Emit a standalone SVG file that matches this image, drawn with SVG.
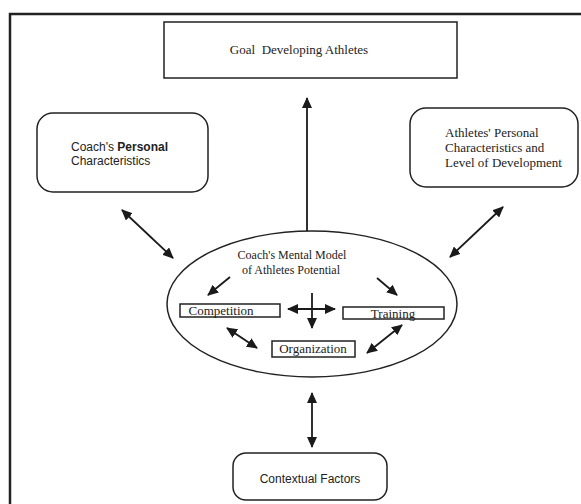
<svg xmlns="http://www.w3.org/2000/svg" width="581" height="504" viewBox="0 0 581 504">
<style>
.box{fill:#fff;stroke:#222;stroke-width:1.5}
.serif{font-family:"Liberation Serif","Times New Roman",serif;fill:#222}
.sans{font-family:"Liberation Sans",Arial,sans-serif;fill:#222}
.con{stroke:#1a1a1a;stroke-width:1.8;fill:none}
</style>
<defs>
<marker id="ah" markerUnits="userSpaceOnUse" markerWidth="12" markerHeight="10" refX="10" refY="5" orient="auto-start-reverse" viewBox="0 0 12 10">
<path d="M0,0 L11,5 L0,10 z" fill="#1a1a1a"/>
</marker>
</defs>
<rect width="581" height="504" fill="#fff"/>
<g id="frame">
<path d="M10,504 L10,14 L581,14" fill="none" stroke="#222" stroke-width="2.5"/>
</g>
<g id="goal">
<rect class="box" x="164" y="22" width="293" height="56"/>
<text class="serif" x="299" y="54" font-size="13" text-anchor="middle" fill="#444" xml:space="preserve">Goal  Developing Athletes</text>
</g>
<g id="coach">
<rect class="box" x="37" y="113" width="171" height="79" rx="16"/>
<text class="sans" x="71" y="151" font-size="12">Coach's <tspan font-weight="bold">Personal</tspan></text>
<text class="sans" x="71" y="165" font-size="12">Characteristics</text>
</g>
<g id="athletes">
<rect class="box" x="410" y="108" width="168" height="79" rx="16"/>
<text class="serif" x="445" y="137" font-size="13">Athletes' Personal</text>
<text class="serif" x="445" y="152" font-size="13">Characteristics and</text>
<text class="serif" x="445" y="167" font-size="13">Level of Development</text>
</g>
<g id="mental-model">
<ellipse class="box" cx="312" cy="304" rx="145" ry="73"/>
<text class="serif" x="292" y="259" font-size="12" text-anchor="middle">Coach's Mental Model</text>
<text class="serif" x="291" y="274" font-size="12" text-anchor="middle">of Athletes Potential</text>
</g>
<g id="competition">
<rect class="box" x="180" y="304" width="100" height="13"/>
<text class="serif" x="221" y="315" font-size="13" text-anchor="middle">Competition</text>
</g>
<g id="training">
<rect class="box" x="343" y="307" width="101" height="12"/>
<text class="serif" x="393" y="318" font-size="13" text-anchor="middle">Training</text>
</g>
<g id="organization">
<rect class="box" x="272" y="341" width="83" height="16"/>
<text class="serif" x="313" y="353" font-size="13" text-anchor="middle">Organization</text>
</g>
<g id="contextual">
<rect class="box" x="233" y="453" width="154" height="47" rx="13"/>
<text class="sans" x="310" y="483" font-size="12" text-anchor="middle">Contextual Factors</text>
</g>
<g id="connectors">
<line class="con" x1="307" y1="231" x2="307" y2="98" marker-end="url(#ah)"/>
<line class="con" x1="122" y1="210" x2="173" y2="258" marker-start="url(#ah)" marker-end="url(#ah)"/>
<line class="con" x1="450" y1="257" x2="503" y2="207" marker-start="url(#ah)" marker-end="url(#ah)"/>
<line class="con" x1="312" y1="393" x2="312" y2="447" marker-start="url(#ah)" marker-end="url(#ah)"/>
<line class="con" x1="230" y1="277" x2="208" y2="295" marker-end="url(#ah)"/>
<line class="con" x1="377" y1="278" x2="397" y2="295" marker-end="url(#ah)"/>
<line class="con" x1="312" y1="293" x2="312" y2="328" marker-end="url(#ah)"/>
<line class="con" x1="288" y1="309" x2="335" y2="309" marker-start="url(#ah)" marker-end="url(#ah)"/>
<line class="con" x1="227" y1="328" x2="257" y2="348" marker-start="url(#ah)" marker-end="url(#ah)"/>
<line class="con" x1="367" y1="353" x2="402" y2="325" marker-start="url(#ah)" marker-end="url(#ah)"/>
</g>
</svg>
